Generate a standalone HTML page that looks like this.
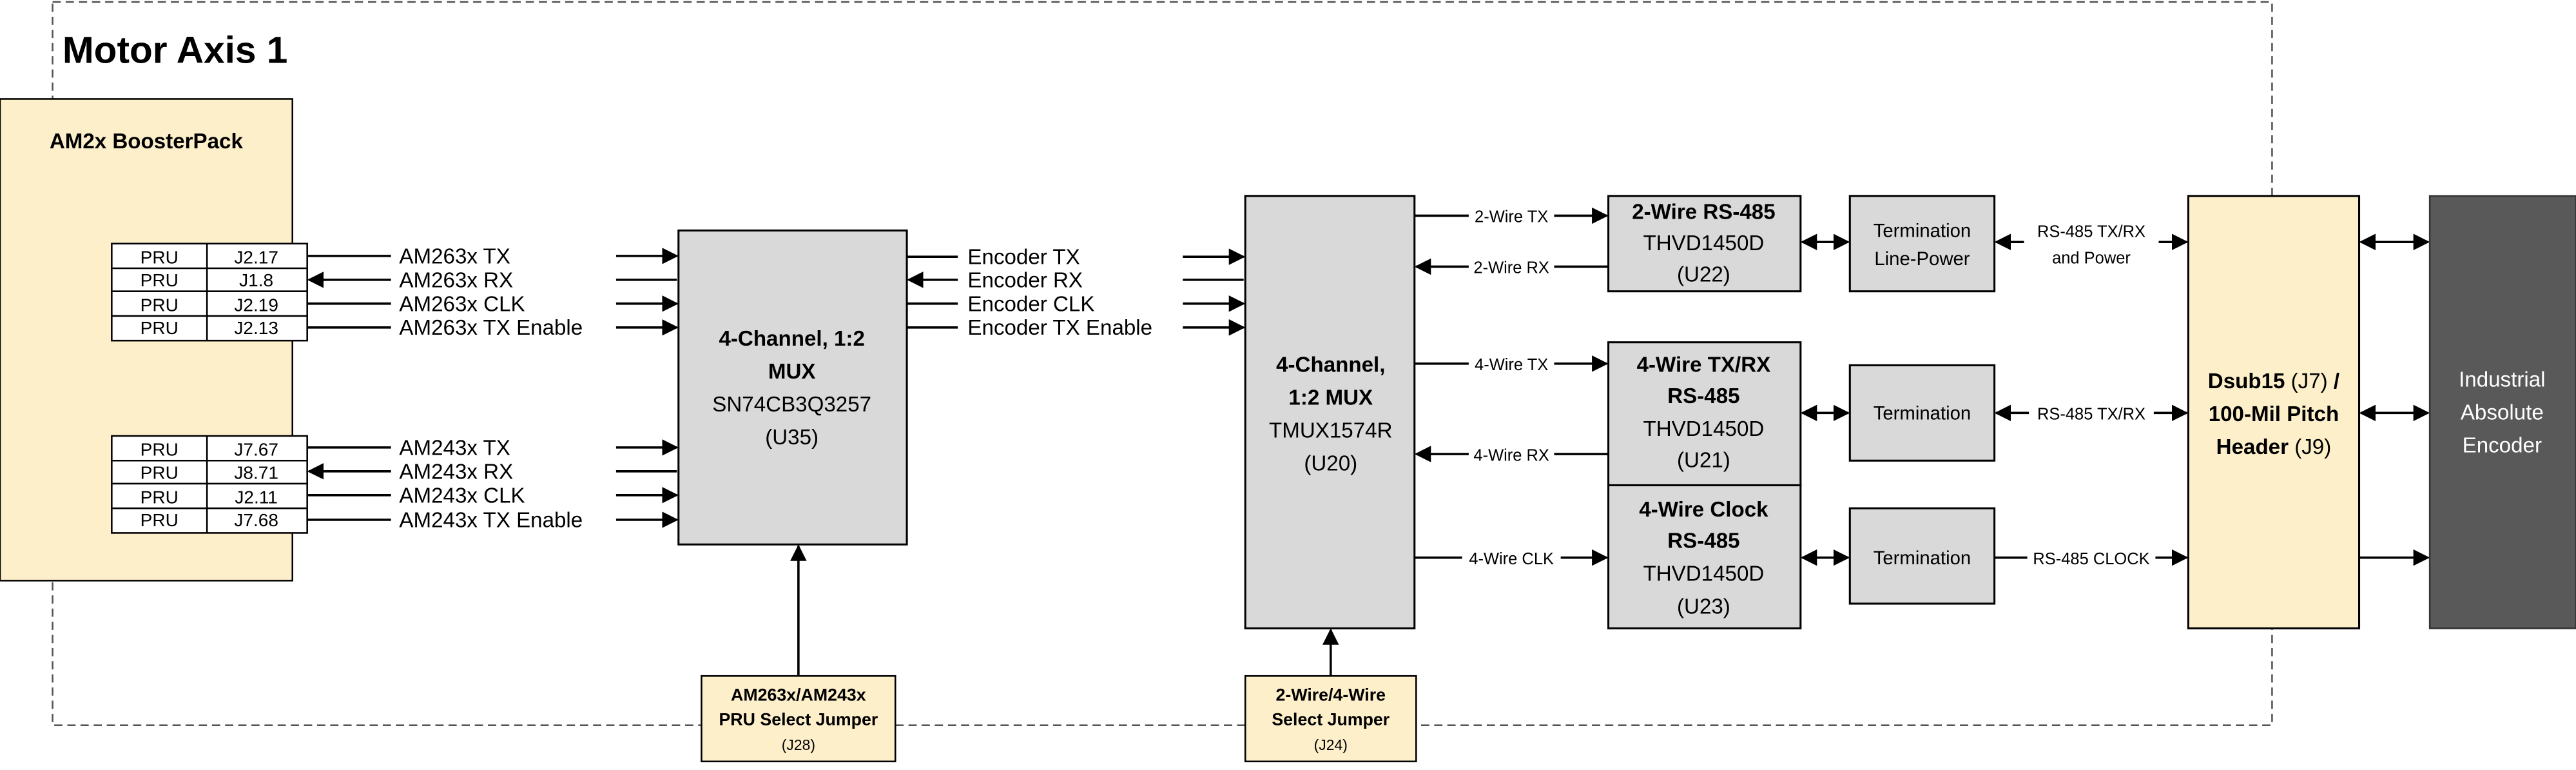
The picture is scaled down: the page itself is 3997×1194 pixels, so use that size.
<!DOCTYPE html>
<html><head><meta charset="utf-8"><style>
html,body{margin:0;padding:0;background:#fff;}
svg{display:block;}
text{font-family:"Liberation Sans",sans-serif;fill:#000;}
.b{font-weight:bold;}
</style></head><body>
<svg width="3997" height="1194" viewBox="0 0 1568 468" xmlns="http://www.w3.org/2000/svg">
<defs>
<marker id="ae" markerWidth="10" markerHeight="10" refX="9" refY="5" orient="auto" markerUnits="userSpaceOnUse"><path d="M0,0 L10,5 L0,10 z" fill="#000"/></marker>
<marker id="as" markerWidth="10" markerHeight="10" refX="1" refY="5" orient="auto" markerUnits="userSpaceOnUse"><path d="M10,0 L0,5 L10,10 z" fill="#000"/></marker>
</defs>
<rect x="32" y="1" width="1351" height="440" fill="none" stroke="#555" stroke-width="1" stroke-dasharray="5,3"/>
<text x="38" y="38" font-size="23" class="b">Motor Axis 1</text>

<!-- BoosterPack -->
<rect x="0" y="60" width="178" height="293" fill="#fdefca" stroke="#000" stroke-width="1"/>
<text x="89" y="90" font-size="13" class="b" text-anchor="middle">AM2x BoosterPack</text>
<g stroke="#000" stroke-width="1" fill="#fff">
<rect x="68" y="148" width="119" height="59"/>
<rect x="68" y="265" width="119" height="59"/>
</g>
<g stroke="#000" stroke-width="1">
<line x1="126" y1="148" x2="126" y2="207"/><line x1="68" y1="163" x2="187" y2="163"/><line x1="68" y1="177" x2="187" y2="177"/><line x1="68" y1="192" x2="187" y2="192"/>
<line x1="126" y1="265" x2="126" y2="324"/><line x1="68" y1="280" x2="187" y2="280"/><line x1="68" y1="294" x2="187" y2="294"/><line x1="68" y1="309" x2="187" y2="309"/>
</g>
<g font-size="11" text-anchor="middle">
<text x="97" y="160">PRU</text><text x="156" y="160">J2.17</text>
<text x="97" y="174">PRU</text><text x="156" y="174">J1.8</text>
<text x="97" y="189">PRU</text><text x="156" y="189">J2.19</text>
<text x="97" y="203">PRU</text><text x="156" y="203">J2.13</text>
<text x="97" y="277">PRU</text><text x="156" y="277">J7.67</text>
<text x="97" y="291">PRU</text><text x="156" y="291">J8.71</text>
<text x="97" y="306">PRU</text><text x="156" y="306">J2.11</text>
<text x="97" y="320">PRU</text><text x="156" y="320">J7.68</text>
</g>
<g stroke="#000" stroke-width="1.4" fill="none">
<line x1="187" y1="155.5" x2="238" y2="155.5"/><line x1="375" y1="155.5" x2="412" y2="155.5" marker-end="url(#ae)"/>
<line x1="238" y1="170" x2="188" y2="170" marker-end="url(#ae)"/><line x1="375" y1="170" x2="412" y2="170"/>
<line x1="187" y1="184.5" x2="238" y2="184.5"/><line x1="375" y1="184.5" x2="412" y2="184.5" marker-end="url(#ae)"/>
<line x1="187" y1="199" x2="238" y2="199"/><line x1="375" y1="199" x2="412" y2="199" marker-end="url(#ae)"/>
<line x1="187" y1="272" x2="238" y2="272"/><line x1="375" y1="272" x2="412" y2="272" marker-end="url(#ae)"/>
<line x1="238" y1="286.5" x2="188" y2="286.5" marker-end="url(#ae)"/><line x1="375" y1="286.5" x2="412" y2="286.5"/>
<line x1="187" y1="301" x2="238" y2="301"/><line x1="375" y1="301" x2="412" y2="301" marker-end="url(#ae)"/>
<line x1="187" y1="316" x2="238" y2="316"/><line x1="375" y1="316" x2="412" y2="316" marker-end="url(#ae)"/>
<!-- right of U35 -->
<line x1="552" y1="156" x2="583" y2="156"/><line x1="720" y1="156" x2="757" y2="156" marker-end="url(#ae)"/>
<line x1="583" y1="170" x2="553" y2="170" marker-end="url(#ae)"/><line x1="720" y1="170" x2="757" y2="170"/>
<line x1="552" y1="184.5" x2="583" y2="184.5"/><line x1="720" y1="184.5" x2="757" y2="184.5" marker-end="url(#ae)"/>
<line x1="552" y1="199" x2="583" y2="199"/><line x1="720" y1="199" x2="757" y2="199" marker-end="url(#ae)"/>
<line x1="486" y1="411" x2="486" y2="332" marker-end="url(#ae)"/>
<line x1="810" y1="411" x2="810" y2="383" marker-end="url(#ae)"/>
</g>
<g font-size="13">
<text x="243" y="160">AM263x TX</text><text x="243" y="174.5">AM263x RX</text><text x="243" y="189">AM263x CLK</text><text x="243" y="203.5">AM263x TX Enable</text>
<text x="243" y="276.5">AM243x TX</text><text x="243" y="291">AM243x RX</text><text x="243" y="305.5">AM243x CLK</text><text x="243" y="320.5">AM243x TX Enable</text>
<text x="589" y="160.5">Encoder TX</text><text x="589" y="174.5">Encoder RX</text><text x="589" y="189">Encoder CLK</text><text x="589" y="203.5">Encoder TX Enable</text>
</g>

<!-- U35 -->
<rect x="413" y="140" width="139" height="191" fill="#d9d9d9" stroke="#000" stroke-width="1.2"/>
<g font-size="13" text-anchor="middle">
<text x="482" y="210" class="b">4-Channel, 1:2</text><text x="482" y="230" class="b">MUX</text>
<text x="482" y="250">SN74CB3Q3257</text><text x="482" y="270">(U35)</text>
</g>
<!-- Jumpers -->
<rect x="427" y="411" width="118" height="52" fill="#fdefca" stroke="#000" stroke-width="1"/>
<g text-anchor="middle"><text x="486" y="426" font-size="10.5" class="b">AM263x/AM243x</text><text x="486" y="441" font-size="10.5" class="b">PRU Select Jumper</text><text x="486" y="456" font-size="9">(J28)</text></g>
<rect x="758" y="411" width="104" height="52" fill="#fdefca" stroke="#000" stroke-width="1"/>
<g text-anchor="middle"><text x="810" y="426" font-size="10.5" class="b">2-Wire/4-Wire</text><text x="810" y="441" font-size="10.5" class="b">Select Jumper</text><text x="810" y="456" font-size="9">(J24)</text></g>

<!-- U20 -->
<rect x="758" y="119" width="103" height="263" fill="#d9d9d9" stroke="#000" stroke-width="1.2"/>
<g font-size="13" text-anchor="middle">
<text x="810" y="226" class="b">4-Channel,</text><text x="810" y="246" class="b">1:2 MUX</text>
<text x="810" y="266">TMUX1574R</text><text x="810" y="286">(U20)</text>
</g>

<!-- RS485 transceivers -->
<g fill="#d9d9d9" stroke="#000" stroke-width="1.2">
<rect x="979" y="119" width="117" height="58"/>
<rect x="979" y="208" width="117" height="87"/>
<rect x="979" y="295" width="117" height="87"/>
<rect x="1126" y="119" width="88" height="58"/>
<rect x="1126" y="222" width="88" height="58"/>
<rect x="1126" y="309" width="88" height="58"/>
</g>
<g font-size="13" text-anchor="middle">
<text x="1037" y="133" class="b">2-Wire RS-485</text><text x="1037" y="152">THVD1450D</text><text x="1037" y="171">(U22)</text>
<text x="1037" y="226" class="b">4-Wire TX/RX</text><text x="1037" y="245" class="b">RS-485</text><text x="1037" y="265">THVD1450D</text><text x="1037" y="284">(U21)</text>
<text x="1037" y="314" class="b">4-Wire Clock</text><text x="1037" y="333" class="b">RS-485</text><text x="1037" y="353">THVD1450D</text><text x="1037" y="373">(U23)</text>
</g>
<g font-size="11.5" text-anchor="middle">
<text x="1170" y="144">Termination</text><text x="1170" y="161">Line-Power</text>
<text x="1170" y="255">Termination</text><text x="1170" y="343">Termination</text>
</g>
<g stroke="#000" stroke-width="1.4" fill="none">
<line x1="861" y1="131" x2="894" y2="131"/><line x1="946" y1="131" x2="978" y2="131" marker-end="url(#ae)"/>
<line x1="894" y1="162" x2="862" y2="162" marker-end="url(#ae)"/><line x1="946" y1="162" x2="979" y2="162"/>
<line x1="861" y1="221" x2="894" y2="221"/><line x1="946" y1="221" x2="978" y2="221" marker-end="url(#ae)"/>
<line x1="894" y1="276" x2="862" y2="276" marker-end="url(#ae)"/><line x1="946" y1="276" x2="979" y2="276"/>
<line x1="861" y1="339" x2="890" y2="339"/><line x1="950" y1="339" x2="978" y2="339" marker-end="url(#ae)"/>
<line x1="1097" y1="147" x2="1125" y2="147" marker-start="url(#as)" marker-end="url(#ae)"/>
<line x1="1097" y1="251" x2="1125" y2="251" marker-start="url(#as)" marker-end="url(#ae)"/>
<line x1="1097" y1="339" x2="1125" y2="339" marker-start="url(#as)" marker-end="url(#ae)"/>
<line x1="1215" y1="147" x2="1232" y2="147" marker-start="url(#as)"/><line x1="1314" y1="147" x2="1331" y2="147" marker-end="url(#ae)"/>
<line x1="1215" y1="251" x2="1235" y2="251" marker-start="url(#as)"/><line x1="1311" y1="251" x2="1331" y2="251" marker-end="url(#ae)"/>
<line x1="1214" y1="339" x2="1234" y2="339"/><line x1="1312" y1="339" x2="1331" y2="339" marker-end="url(#ae)"/>
<line x1="1437" y1="147" x2="1478" y2="147" marker-start="url(#as)" marker-end="url(#ae)"/>
<line x1="1437" y1="251" x2="1478" y2="251" marker-start="url(#as)" marker-end="url(#ae)"/>
<line x1="1436" y1="339" x2="1478" y2="339" marker-end="url(#ae)"/>
</g>
<g font-size="10" text-anchor="middle">
<text x="920" y="135">2-Wire TX</text><text x="920" y="166">2-Wire RX</text>
<text x="920" y="225">4-Wire TX</text><text x="920" y="280">4-Wire RX</text><text x="920" y="343">4-Wire CLK</text>
<text x="1273" y="144">RS-485 TX/RX</text><text x="1273" y="160">and Power</text>
<text x="1273" y="255">RS-485 TX/RX</text><text x="1273" y="343">RS-485 CLOCK</text>
</g>

<!-- Dsub -->
<rect x="1332" y="119" width="104" height="263" fill="#fdefca" stroke="#000" stroke-width="1.2"/>
<g font-size="13" text-anchor="middle">
<text x="1384" y="236"><tspan class="b">Dsub15</tspan> (J7) <tspan class="b">/</tspan></text>
<text x="1384" y="256" class="b">100-Mil Pitch</text>
<text x="1384" y="276"><tspan class="b">Header</tspan> (J9)</text>
</g>
<!-- Encoder -->
<rect x="1479" y="119" width="89" height="263" fill="#595959" stroke="#333" stroke-width="1"/>
<g font-size="13" text-anchor="middle">
<text x="1523" y="235" style="fill:#fff">Industrial</text>
<text x="1523" y="255" style="fill:#fff">Absolute</text>
<text x="1523" y="275" style="fill:#fff">Encoder</text>
</g>
</svg>
</body></html>
